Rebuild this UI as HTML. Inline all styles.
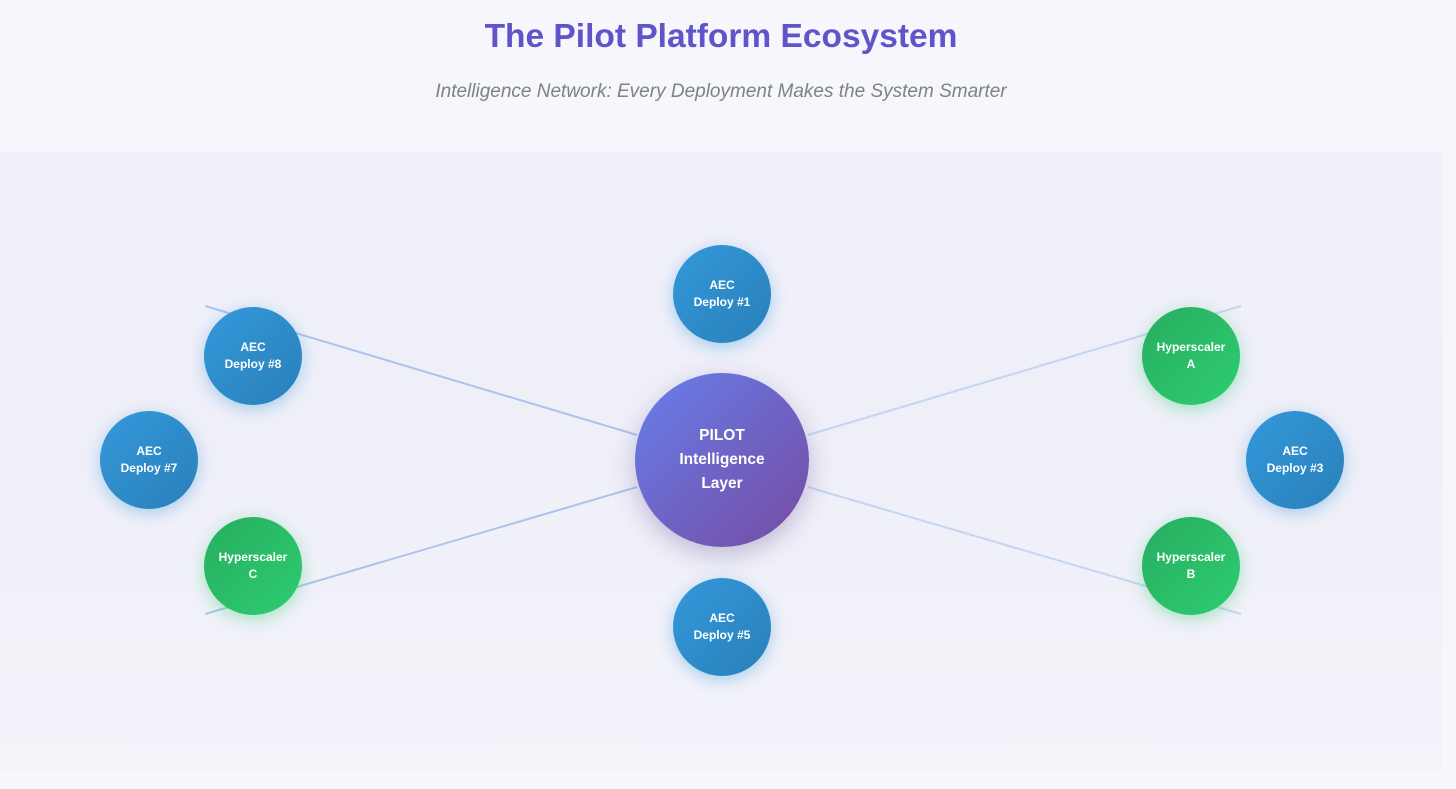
<!DOCTYPE html>
<html><head><meta charset="utf-8"><style>
*{margin:0;padding:0;box-sizing:border-box}
body{width:1456px;height:789px;background:#f6f6fc;font-family:"Liberation Sans",sans-serif;position:relative;overflow:hidden}
h1{position:absolute;top:18px;left:0;width:1442px;text-align:center;font-size:33.5px;font-weight:bold;color:#5f55c8}
.sub{position:absolute;top:81px;left:0;width:1442px;text-align:center;font-size:19px;font-style:italic;color:#7a8488}
.panel{position:absolute;left:0;top:152px;width:1442px;height:618px;background:linear-gradient(180deg,#f0f0fa,#efeff8 50%,#f3f3fa)}
svg{position:absolute;left:0;top:0}
.n{position:absolute;width:98px;height:98px;border-radius:50%;color:#fff;font-weight:bold;font-size:12px;line-height:17px;display:flex;align-items:center;justify-content:center;text-align:center}
.b{background:linear-gradient(135deg,#3498db,#2980b9);box-shadow:0 4px 16px rgba(52,152,219,.4)}
.g{background:linear-gradient(135deg,#27ae60,#2ecc71);box-shadow:0 4px 16px rgba(46,204,113,.4)}
.c{position:absolute;left:635px;top:373px;width:174px;height:174px;border-radius:50%;background:linear-gradient(135deg,#667eea,#764ba2);box-shadow:0 8px 24px rgba(80,60,140,.3);color:#fff;font-weight:bold;font-size:15.5px;line-height:24px;display:flex;align-items:center;justify-content:center;text-align:center}
</style></head><body>
<h1>The Pilot Platform Ecosystem</h1>
<div class="sub">Intelligence Network: Every Deployment Makes the System Smarter</div>
<div class="panel"></div>
<svg width="1456" height="789">
<g stroke="#aac4ee" stroke-width="2" fill="none">
<line x1="205" y1="306" x2="637" y2="435"/>
<line x1="205" y1="614" x2="637" y2="487"/>
<line x1="808" y1="435" x2="1241" y2="306" stroke="#c4d4f2"/>
<line x1="808" y1="487" x2="1241" y2="614" stroke="#c4d4f2"/>
</g></svg>
<div class="c">PILOT<br>Intelligence<br>Layer</div>
<div class="n b" style="left:673px;top:245px">AEC<br>Deploy #1</div>
<div class="n b" style="left:204px;top:307px">AEC<br>Deploy #8</div>
<div class="n b" style="left:100px;top:411px">AEC<br>Deploy #7</div>
<div class="n g" style="left:204px;top:517px">Hyperscaler<br>C</div>
<div class="n g" style="left:1142px;top:307px">Hyperscaler<br>A</div>
<div class="n b" style="left:1246px;top:411px">AEC<br>Deploy #3</div>
<div class="n g" style="left:1142px;top:517px">Hyperscaler<br>B</div>
<div class="n b" style="left:673px;top:578px">AEC<br>Deploy #5</div>
</body></html>
